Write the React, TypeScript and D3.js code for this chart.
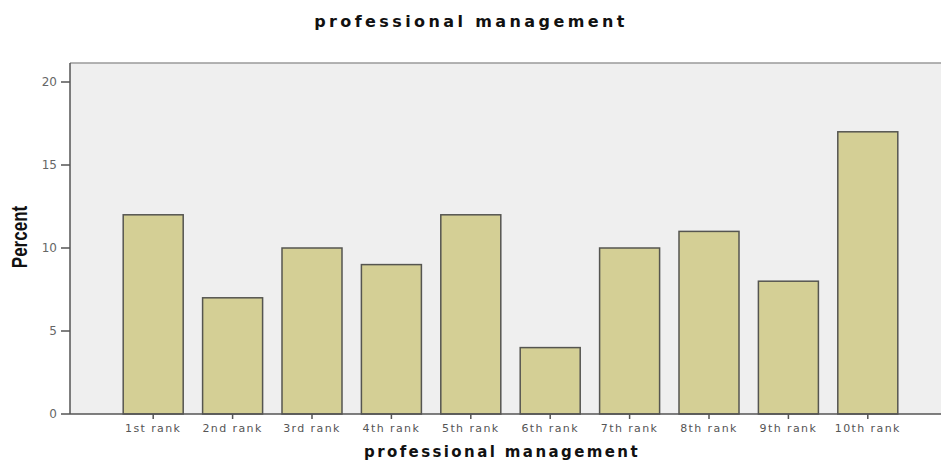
import { useEffect, useRef } from "react";
import * as d3 from "d3";

const categories = [
    "1st rank",
    "2nd rank",
    "3rd rank",
    "4th rank",
    "5th rank",
    "6th rank",
    "7th rank",
    "8th rank",
    "9th rank",
    "10th rank",
];
const percents = [12, 7, 10, 9, 12, 4, 10, 11, 8, 17];
const yTicks = [0, 5, 10, 15, 20];

export default function App() {
    const svgRef = useRef<SVGSVGElement>(null);

    useEffect(() => {
        if (!svgRef.current) return;
        const width = 941;
        const height = 460;
        const plot = { left: 70, right: 941, top: 63, bottom: 414 };

        const svg = d3.select(svgRef.current);
        svg.selectAll("*").remove();
        svg.attr("width", width).attr("height", height);

        svg.append("rect")
            .attr("width", width)
            .attr("height", height)
            .attr("fill", "#ffffff");

        // scales
        const x = d3
            .scaleBand<string>()
            .domain(categories)
            .range([113.5, 907.5])
            .paddingInner(0.245)
            .paddingOuter(0.1225);
        const y = d3.scaleLinear().domain([0, 20]).range([plot.bottom, 82]);

        // plot background
        svg.append("rect")
            .attr("x", plot.left)
            .attr("y", plot.top)
            .attr("width", plot.right - plot.left)
            .attr("height", plot.bottom - plot.top)
            .attr("fill", "#efefef");
        svg.append("line")
            .attr("x1", plot.left)
            .attr("x2", plot.right)
            .attr("y1", plot.top)
            .attr("y2", plot.top)
            .attr("stroke", "#9a9a9a")
            .attr("stroke-width", 1.5);

        // bars
        const bw = x.bandwidth();
        svg.selectAll(".bar")
            .data(percents)
            .enter()
            .append("rect")
            .attr("class", "bar")
            .attr("x", (_d, i) => (x(categories[i]) as number) + (bw - 60) / 2)
            .attr("y", (d) => y(d))
            .attr("width", 60)
            .attr("height", (d) => plot.bottom - y(d))
            .attr("fill", "#d4cf95")
            .attr("stroke", "#555550")
            .attr("stroke-width", 1.5);

        // y axis
        svg.append("line")
            .attr("x1", plot.left)
            .attr("x2", plot.left)
            .attr("y1", plot.top)
            .attr("y2", plot.bottom)
            .attr("stroke", "#555")
            .attr("stroke-width", 1.5);
        const yt = svg.append("g");
        yTicks.forEach((t) => {
            yt.append("line")
                .attr("x1", plot.left - 9)
                .attr("x2", plot.left)
                .attr("y1", y(t))
                .attr("y2", y(t))
                .attr("stroke", "#555")
                .attr("stroke-width", 1.5);
            yt.append("text")
                .attr("x", plot.left - 13)
                .attr("y", y(t))
                .attr("dy", "0.35em")
                .attr("text-anchor", "end")
                .attr("font-family", "DejaVu Sans, sans-serif")
                .attr("font-size", "12px")
                .attr("fill", "#666")
                .text(t);
        });

        // x axis
        svg.append("line")
            .attr("x1", plot.left)
            .attr("x2", plot.right)
            .attr("y1", plot.bottom)
            .attr("y2", plot.bottom)
            .attr("stroke", "#555")
            .attr("stroke-width", 1.5);
        categories.forEach((c) => {
            const cx = (x(c) as number) + bw / 2;
            svg.append("line")
                .attr("x1", cx)
                .attr("x2", cx)
                .attr("y1", plot.bottom)
                .attr("y2", plot.bottom + 5)
                .attr("stroke", "#555")
                .attr("stroke-width", 1.5);
            svg.append("text")
                .attr("x", cx)
                .attr("y", plot.bottom + 18)
                .attr("text-anchor", "middle")
                .attr("font-family", "DejaVu Sans, sans-serif")
                .attr("font-size", "11px")
                .attr("letter-spacing", "1.4px")
                .attr("fill", "#555")
                .text(c);
        });

        // titles
        svg.append("text")
            .attr("x", 471)
            .attr("y", 27)
            .attr("text-anchor", "middle")
            .attr("font-family", "DejaVu Sans, sans-serif")
            .attr("font-weight", "bold")
            .attr("font-size", "16px")
            .attr("letter-spacing", "3.4px")
            .attr("fill", "#111")
            .text("professional management");
        svg.append("text")
            .attr("x", 502)
            .attr("y", 457)
            .attr("text-anchor", "middle")
            .attr("font-family", "DejaVu Sans, sans-serif")
            .attr("font-weight", "bold")
            .attr("font-size", "15px")
            .attr("letter-spacing", "2.4px")
            .attr("fill", "#111")
            .text("professional management");
        svg.append("text")
            .attr("transform", "translate(27, 237) rotate(-90) scale(1, 1.25)")
            .attr("text-anchor", "middle")
            .attr("font-family", "Liberation Sans Narrow, Liberation Sans, sans-serif")
            .attr("font-weight", "bold")
            .attr("font-size", "17px")
            .attr("fill", "#111")
            .text("Percent");
    }, []);

    return (
        <div style={{ position: "absolute", left: 0, top: 0 }}>
            <svg ref={svgRef} style={{ display: "block" }}></svg>
        </div>
    );
}
